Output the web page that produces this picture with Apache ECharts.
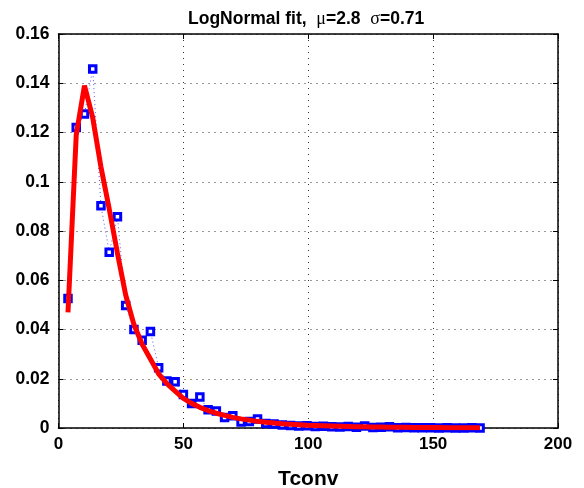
<!DOCTYPE html>
<html>
<head>
<meta charset="utf-8">
<script src="https://cdn.jsdelivr.net/npm/echarts@6/dist/echarts.min.js"></script>
<style>
  html, body { margin: 0; padding: 0; background: #fff; }
  #chart { width: 584px; height: 488px; }
</style>
</head>
<body>
<div id="chart"></div>
<script>
// bin centres (Tconv)
const tconv = [3.8, 7.1, 10.4, 13.7, 17.0, 20.3, 23.6, 26.9, 30.2, 33.5,
  36.8, 40.1, 43.4, 46.7, 50.0, 53.3, 56.6, 59.9, 63.2, 66.5,
  69.8, 73.1, 76.4, 79.7, 83.0, 86.3, 89.6, 92.9, 96.2, 99.5,
  102.8, 106.1, 109.4, 112.7, 116.0, 119.3, 122.6, 125.9, 129.2, 132.5,
  135.8, 139.1, 142.4, 145.7, 149.0, 152.3, 155.6, 158.9, 162.2, 165.5, 168.8];

// measured distribution (blue squares)
const measured = [0.0526, 0.122, 0.1275, 0.1458, 0.0903, 0.0714, 0.0858, 0.0497, 0.040, 0.0356,
  0.0392, 0.0245, 0.0191, 0.0188, 0.0136, 0.0099, 0.0126, 0.0074, 0.0069, 0.0043,
  0.005, 0.0024, 0.0026, 0.0037, 0.0018, 0.0016, 0.0012, 0.0010, 0.0008, 0.0009,
  0.0006, 0.0007, 0.0005, 0.0004, 0.0006, 0.0003, 0.0008, 0.0002, 0.0003, 0.0005,
  0.0001, 0.0002, 0.0001, 0.0001, 0.0001, 0.0, 0.0001, 0.0, 0.0, 0.0001, 0.0];

// lognormal fit (red curve)
const fit = [0.047, 0.119, 0.139, 0.126, 0.106, 0.089, 0.071, 0.054, 0.042, 0.034,
  0.028, 0.022, 0.018, 0.015, 0.012, 0.0100, 0.0084, 0.0071, 0.0060, 0.0051,
  0.0043, 0.0037, 0.0032, 0.0027, 0.0023, 0.0020, 0.0017, 0.0015, 0.0013, 0.0011,
  0.0010, 0.0009, 0.0008, 0.0007, 0.0006, 0.0005, 0.0005, 0.0004, 0.0004, 0.0003,
  0.0003, 0.0003, 0.0002, 0.0002, 0.0002, 0.0002, 0.0001, 0.0001, 0.0001, 0.0001, 0.0001];

const xTicks = [0, 50, 100, 150, 200];
const yTicks = [0, 0.02, 0.04, 0.06, 0.08, 0.1, 0.12, 0.14, 0.16];

const FONT = '"Liberation Sans", Arial, Helvetica, sans-serif';

let chart = echarts.init(document.getElementById('chart'));

const gridLine = { show: true, lineStyle: { color: '#333', width: 1, type: [1, 5] } };
const boxLine = { show: true, onZero: false, lineStyle: { color: '#000', width: 1.5 } };
const tick = { show: true, inside: true, length: 5, lineStyle: { color: '#000', width: 1 } };

let option = {
  animation: false,
  backgroundColor: '#fff',
  title: {
    text: '{b|LogNormal fit,  }{g|μ}{b|=2.8  }{g|σ}{b|=0.71}',
    left: 183,
    top: 5,
    textStyle: {
      rich: {
        b: { fontFamily: FONT, fontWeight: 'bold', fontSize: 17.5, color: '#000' },
        g: { fontFamily: '"Liberation Serif", serif', fontWeight: 'normal', fontSize: 18, color: '#000' }
      }
    }
  },
  grid: { left: 58.5, right: 26, top: 34, bottom: 60, outerBoundsMode: 'none', containLabel: false },
  xAxis: [{
    type: 'value',
    min: xTicks[0], max: xTicks[xTicks.length - 1], interval: 50,
    name: 'Tconv',
    nameLocation: 'middle',
    nameGap: 41,
    nameTextStyle: { fontFamily: FONT, fontWeight: 'bold', fontSize: 21, color: '#000' },
    axisLine: boxLine,
    axisTick: tick,
    splitLine: gridLine,
    axisLabel: { fontFamily: FONT, fontWeight: 'bold', fontSize: 17, color: '#000', margin: 8 }
  }, {
    type: 'value', position: 'top',
    min: xTicks[0], max: xTicks[xTicks.length - 1], interval: 50,
    axisLine: boxLine, axisTick: tick, splitLine: { show: false }, axisLabel: { show: false }
  }],
  yAxis: [{
    type: 'value',
    min: yTicks[0], max: yTicks[yTicks.length - 1], interval: 0.02,
    axisLine: boxLine,
    axisTick: tick,
    splitLine: gridLine,
    axisLabel: { fontFamily: FONT, fontWeight: 'bold', fontSize: 17.5, color: '#000', margin: 9 }
  }, {
    type: 'value', position: 'right',
    min: yTicks[0], max: yTicks[yTicks.length - 1], interval: 0.02,
    axisLine: boxLine, axisTick: tick, splitLine: { show: false }, axisLabel: { show: false }
  }],
  series: [{
    name: 'measured',
    type: 'line',
    data: tconv.map((x, i) => [x, measured[i]]),
    symbol: 'rect',
    symbolSize: 6.5,
    showAllSymbol: true,
    itemStyle: { color: '#fff', borderColor: '#0000ff', borderWidth: 3 },
    lineStyle: { color: '#5555ff', width: 1, type: [1, 3] },
    z: 2
  }, {
    name: 'fit',
    type: 'line',
    data: tconv.map((x, i) => [x, fit[i]]),
    symbol: 'none',
    lineStyle: { color: '#ff0000', width: 5 },
    z: 3
  }]
};

chart.setOption(option);
</script>
</body>
</html>
